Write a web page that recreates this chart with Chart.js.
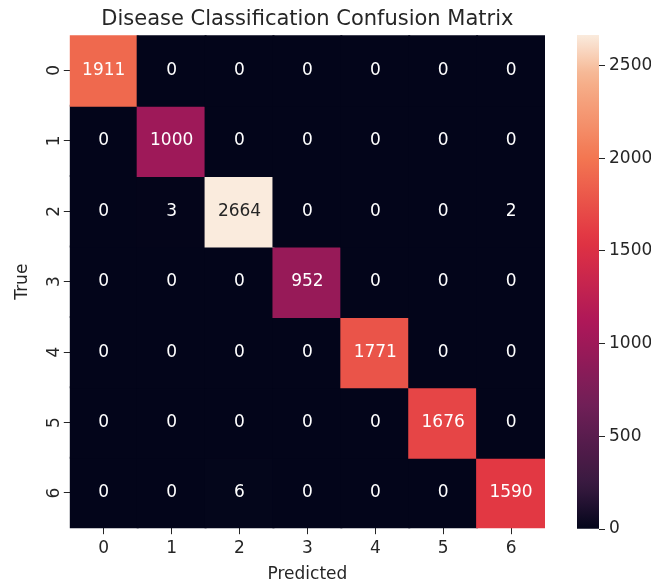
<!DOCTYPE html>
<html>
<head>
<meta charset="utf-8">
<script src="https://cdn.jsdelivr.net/npm/chart.js@4.4.1/dist/chart.umd.min.js"></script>
<style>
  html, body { margin: 0; padding: 0; background: #fff; }
  #wrap { position: relative; width: 672px; height: 587px; }
  #main { position: absolute; left: 0; top: 0; }
  #cbar { position: absolute; left: 560px; top: 0; }
</style>
</head>
<body>
<div id="wrap">
  <canvas id="main" width="560" height="587"></canvas>
  <canvas id="cbar" width="112" height="587"></canvas>
</div>
<script>
const predictedLabels = ['0', '1', '2', '3', '4', '5', '6'];
const trueLabels = ['0', '1', '2', '3', '4', '5', '6'];
const matrix = [
  [1911, 0, 0, 0, 0, 0, 0],
  [0, 1000, 0, 0, 0, 0, 0],
  [0, 3, 2664, 0, 0, 0, 2],
  [0, 0, 0, 952, 0, 0, 0],
  [0, 0, 0, 0, 1771, 0, 0],
  [0, 0, 0, 0, 0, 1676, 0],
  [0, 0, 6, 0, 0, 0, 1590]
];
const colorbarTicks = [0, 500, 1000, 1500, 2000, 2500];

const vmin = 0;
const vmax = Math.max(...matrix.flat());

// seaborn "rocket" sampled
const rocket = [
  [0.0, [3, 5, 26]],
  [0.0833, [53, 25, 62]],
  [0.25, [112, 31, 87]],
  [0.4167, [173, 23, 89]],
  [0.5833, [225, 51, 66]],
  [0.75, [243, 118, 81]],
  [0.9167, [246, 180, 143]],
  [1.0, [250, 235, 221]]
];

function rocketRgb(t) {
  t = Math.max(0, Math.min(1, t));
  for (let i = 1; i < rocket.length; i++) {
    const [t1, c1] = rocket[i];
    const [t0, c0] = rocket[i - 1];
    if (t <= t1) {
      const f = (t - t0) / (t1 - t0);
      return c0.map((v, k) => Math.round(v + (c1[k] - v) * f));
    }
  }
  return rocket[rocket.length - 1][1];
}
const cellColor = v => 'rgb(' + rocketRgb((v - vmin) / (vmax - vmin)).join(',') + ')';

function textColor(v) {
  const lin = rocketRgb((v - vmin) / (vmax - vmin)).map(c => {
    c /= 255;
    return c <= 0.03928 ? c / 12.92 : Math.pow((c + 0.055) / 1.055, 2.4);
  });
  const lum = 0.2126 * lin[0] + 0.7152 * lin[1] + 0.0722 * lin[2];
  return lum > 0.408 ? '#262626' : '#ffffff';
}

const FONT = 'DejaVu Sans';
const INK = '#262626';
const FS = 17;

const datasets = matrix.map((row, r) => ({
  label: trueLabels[r],
  data: row.map(() => [r - 0.5, r + 0.5]),
  values: row,
  backgroundColor: row.map(cellColor),
  borderWidth: 0,
  inflateAmount: 1,
  barPercentage: 1,
  categoryPercentage: 1
}));

const annotate = {
  id: 'annotate',
  afterDatasetsDraw(chart) {
    const ctx = chart.ctx;
    ctx.save();
    ctx.font = FS + 'px "' + FONT + '"';
    ctx.textAlign = 'center';
    ctx.textBaseline = 'middle';
    chart.data.datasets.forEach((ds, i) => {
      chart.getDatasetMeta(i).data.forEach((el, j) => {
        const p = el.getCenterPoint();
        ctx.fillStyle = textColor(ds.values[j]);
        ctx.fillText(String(ds.values[j]), p.x, p.y);
      });
    });
    ctx.restore();
  }
};

new Chart(document.getElementById('main'), {
  type: 'bar',
  data: { labels: predictedLabels, datasets: datasets },
  plugins: [annotate],
  options: {
    responsive: false,
    animation: false,
    layout: { padding: { left: 12, right: 15, top: 0, bottom: 2 } },
    plugins: {
      legend: { display: false },
      tooltip: { enabled: false },
      title: {
        display: true,
        text: 'Disease Classification Confusion Matrix',
        fullSize: false,
        color: INK,
        font: { family: FONT, size: 21, weight: 'normal' },
        padding: { top: 7, bottom: 3 }
      }
    },
    scales: {
      x: {
        stacked: true,
        offset: true,
        grid: { offset: false, drawOnChartArea: false, drawTicks: true, tickLength: 6, color: INK },
        border: { display: false },
        ticks: { color: INK, font: { family: FONT, size: FS }, padding: 4 },
        title: { display: true, text: 'Predicted', color: INK, font: { family: FONT, size: FS }, padding: { top: 2, bottom: 0 } }
      },
      y: {
        type: 'linear',
        stacked: false,
        reverse: true,
        min: -0.5,
        max: 6.5,
        afterBuildTicks: axis => { axis.ticks = trueLabels.map((_, i) => ({ value: i })); },
        grid: { drawOnChartArea: false, drawTicks: true, tickLength: 6, color: INK },
        border: { display: false },
        ticks: {
          color: INK,
          font: { family: FONT, size: FS },
          padding: 4,
          crossAlign: 'center',
          minRotation: 90,
          maxRotation: 90,
          callback: v => trueLabels[v]
        },
        title: { display: true, text: 'True', color: INK, font: { family: FONT, size: FS }, padding: { top: 0, bottom: 3 } }
      }
    }
  }
});

new Chart(document.getElementById('cbar'), {
  type: 'bar',
  data: {
    labels: [''],
    datasets: [{
      data: [[vmin, vmax]],
      borderWidth: 0,
      barPercentage: 1,
      categoryPercentage: 1,
      backgroundColor: c => {
        const chart = c.chart;
        if (!chart.chartArea) return '#000';
        const y = chart.scales.y;
        const g = chart.ctx.createLinearGradient(0, y.getPixelForValue(vmin), 0, y.getPixelForValue(vmax));
        for (let i = 0; i <= 40; i++) g.addColorStop(i / 40, 'rgb(' + rocketRgb(i / 40).join(',') + ')');
        return g;
      }
    }]
  },
  options: {
    responsive: false,
    animation: false,
    layout: { padding: { left: 17, right: 21, top: 35, bottom: 58 } },
    plugins: { legend: { display: false }, tooltip: { enabled: false } },
    scales: {
      x: { display: false, offset: true },
      y: {
        position: 'right',
        min: vmin,
        max: vmax,
        afterFit: axis => { axis.width = 52; },
        afterBuildTicks: axis => { axis.ticks = colorbarTicks.map(v => ({ value: v })); },
        grid: { drawOnChartArea: false, drawTicks: true, tickLength: 6, color: INK },
        border: { display: false },
        ticks: { color: INK, font: { family: FONT, size: FS }, padding: 4, callback: v => String(v) }
      }
    }
  }
});
</script>
</body>
</html>
